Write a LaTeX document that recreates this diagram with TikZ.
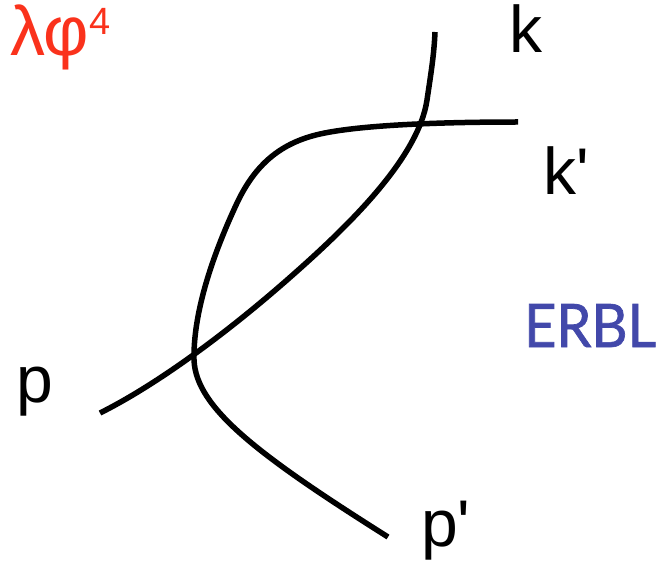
\documentclass[tikz,border=0pt]{standalone}
\usepackage{fontspec}
\setmainfont{Liberation Sans}
\newfontfamily\labfont{Liberation Sans}
\newfontfamily\erblfont[FakeBold=1.2]{Lato}
\definecolor{lamred}{RGB}{250,50,28}
\definecolor{erblblue}{RGB}{66,72,170}
\begin{document}
\begin{tikzpicture}[x=1pt,y=-1pt,
  line/.style={line width=5.5pt,black},
  lab/.style={anchor=base west,inner sep=0pt,font=\labfont\fontsize{66}{70}\selectfont}]
\useasboundingbox (0,0) rectangle (660,561);
% end points and joints
\coordinate (pA) at (100,413);
\coordinate (a1) at (287,280);
\coordinate (a2) at (427,100);
\coordinate (kA) at (435,32);
\coordinate (kB) at (518,122);
\coordinate (b1) at (320,134);
\coordinate (b2) at (237,203);
\coordinate (b3) at (194,360);
\coordinate (pB) at (388,537);
% line p -> k
\draw[line] (pA) .. controls (160,383) and (230,330) .. (a1)
   .. controls (344,230) and (418,160) .. (a2)
   .. controls (431,73) and (434,55) .. (kA);
% line k' -> p'
\draw[line] (kB) .. controls (440,122) and (360,125) .. (b1)
   .. controls (280,143) and (255,165) .. (b2)
   .. controls (215,250) and (193,310) .. (b3)
   .. controls (196,408) and (258,455) .. (pB);
% labels
\node[lab] (k) at (509,53) {k};
\node[lab] (kp) at (543,195) {k'};
\node[lab] (p) at (16,402) {p};
\node[lab] (pp) at (421,546) {p'};
\node[anchor=base west,inner sep=0pt,text=lamred,font=\labfont\fontsize{70}{74}\selectfont] (lam) at (10,56) {λφ\raisebox{21pt}{\fontsize{38}{40}\selectfont 4}};
\node[anchor=base west,inner sep=0pt,text=erblblue,font=\erblfont\fontsize{60}{64}\selectfont] (erbl) at (524,347) {\scalebox{0.93}[1]{ERBL}};
\end{tikzpicture}
\end{document}
